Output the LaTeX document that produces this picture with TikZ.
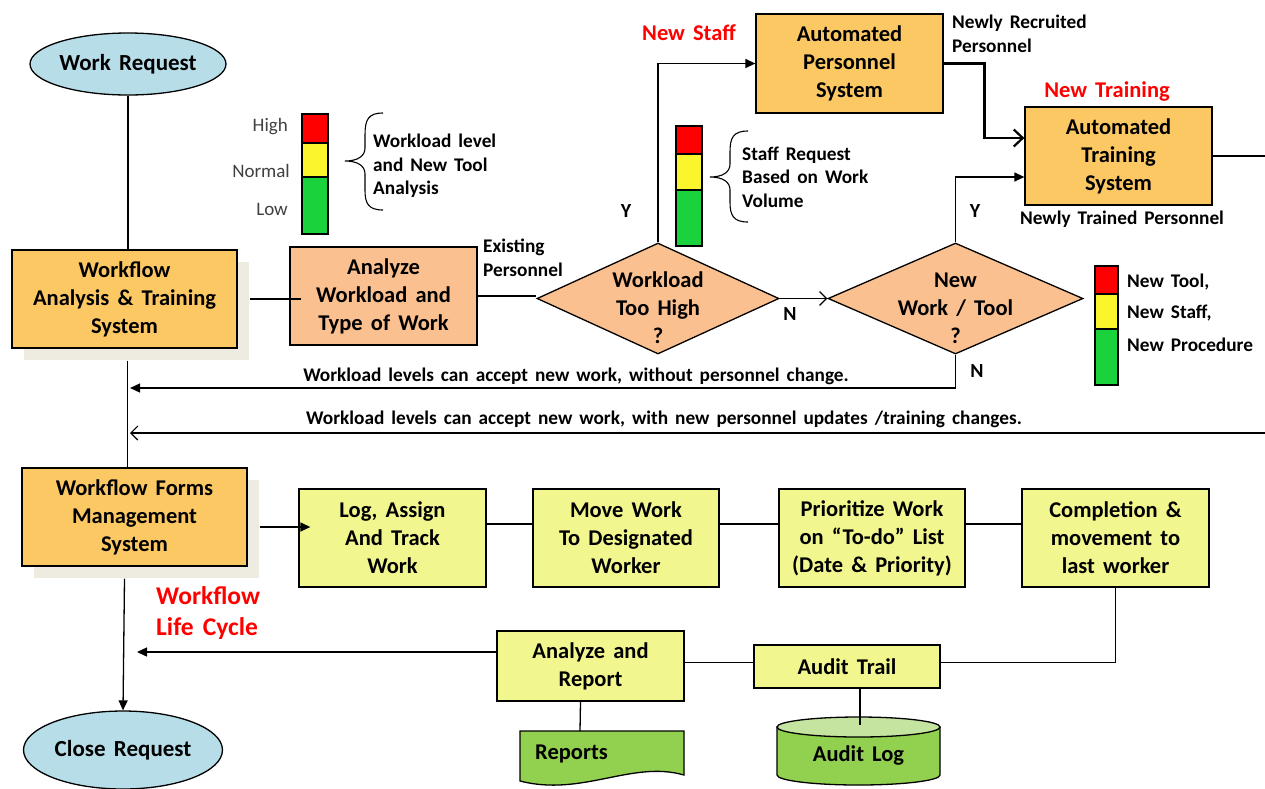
\documentclass[tikz,border=0pt]{standalone}
\usepackage{fontspec}
\setmainfont{Carlito}[WordSpace=1.6]
\usetikzlibrary{shapes.geometric,arrows.meta,shadows}
\definecolor{obox}{RGB}{252,200,100}
\definecolor{peach}{RGB}{250,192,144}
\definecolor{lyel}{RGB}{242,246,142}
\definecolor{lblue}{RGB}{183,222,232}
\definecolor{dgreen}{RGB}{146,208,80}
\definecolor{cyltop}{RGB}{196,228,160}
\definecolor{shadowc}{RGB}{238,236,225}
\definecolor{tred}{RGB}{255,0,0}
\definecolor{tyel}{RGB}{250,245,45}
\definecolor{tgreen}{RGB}{25,210,60}
\definecolor{redlab}{RGB}{255,0,0}
\definecolor{graytxt}{RGB}{64,64,64}
\begin{document}
\begin{tikzpicture}[x=1pt,y=-1pt,
  box/.style={draw, line width=1.3pt, align=center, inner sep=0pt,
    font=\bfseries\fontsize{22.5}{28}\selectfont},
  orbox/.style={box, fill=obox},
  pebox/.style={box, fill=peach},
  yebox/.style={box, fill=lyel},
  shad/.style={drop shadow={shadow xshift=12pt, shadow yshift=-12pt, opacity=1, fill=shadowc}},
  dia/.style={diamond, draw, line width=1.3pt, fill=peach, inner sep=0pt, minimum width=242pt, minimum height=111pt},
  ell/.style={ellipse, draw, line width=1.3pt, fill=lblue, inner sep=0pt, font=\bfseries\fontsize{23}{28}\selectfont},
  btxt/.style={align=center, inner sep=0pt, font=\bfseries\fontsize{22.5}{28}\selectfont},
  lab/.style={align=left, inner sep=0pt, font=\bfseries\fontsize{19.3}{23.5}\selectfont},
  yn/.style={inner sep=0pt, font=\bfseries\fontsize{20}{22}\selectfont},
  redl/.style={inner sep=0pt, text=redlab, font=\bfseries\fontsize{22.5}{26}\selectfont},
  lvl/.style={inner sep=0pt, anchor=east, text=graytxt, font=\fontsize{19}{22}\selectfont},
  conn/.style={line width=1.3pt},
  farr/.style={conn, -{Triangle[length=10pt,width=9pt]}},
  oarr/.style={conn, -{Straight Barb[length=7pt,width=14pt,line width=1.2pt]}},
  tharr/.style={line width=2.8pt, -{Straight Barb[length=9pt,width=17pt,line width=2.2pt]}},
  tl/.style={draw, line width=1.3pt},
  brc/.style={line width=1.1pt}
]
\useasboundingbox[fill=white] (0,0) rectangle (1265,788);

% ---------------- left column ----------------
\node[ell, minimum width=196pt, minimum height=62pt] (wr) at (128,64) {Work Request};
\node[orbox, shad, minimum width=225pt, minimum height=98pt] (wa) at (124.5,299) {Workflow\\Analysis \& Training\\System};
\node[orbox, shad, minimum width=225pt, minimum height=98pt] (wf) at (134.5,517) {Workflow Forms\\Management\\System};
\node[ell, minimum width=199pt, minimum height=78pt] (cr) at (123,750) {Close Request};

% ---------------- analysis row ----------------
\node[pebox, minimum width=187pt, minimum height=98pt] (ana) at (383.5,296) {Analyze\\Workload and\\Type of Work};
\node[dia] (d1) at (658,298.5) {};
\node[btxt] (d1t) at (658,308) {Workload\\Too High\\?};
\node[dia, minimum width=255pt] (d2) at (955.5,298.5) {};
\node[btxt] (d2t) at (955.5,308) {New\\Work / Tool\\?};

\node[orbox, minimum width=187pt, minimum height=99pt] (aps) at (849.5,63.5) {Automated\\Personnel\\System};
\node[orbox, minimum width=187pt, minimum height=98pt] (ats) at (1118.5,156) {Automated\\Training\\System};

% ---------------- labels ----------------
\node[lab, anchor=west] (exist) at (483,258) {Existing\\Personnel};
\node[lab, anchor=west] (nrp) at (952,34) {Newly Recruited\\Personnel};
\node[lab] (ntp) at (1122,219) {Newly Trained Personnel};
\node[redl] (nstaff) at (689,33) {New Staff};
\node[redl] (ntrain) at (1107,92) {New Training};
\node[yn] (y1) at (626,211) {Y};
\node[yn] (y2) at (975,211) {Y};
\node[yn] (n1) at (790,314) {N};
\node[yn] (n2) at (977,371) {N};
\node[lab] (wl1) at (576,376) {Workload levels can accept new work, without personnel change.};
\node[lab] (wl2) at (664,419) {Workload levels can accept new work, with new personnel updates /training changes.};
\node[anchor=west, align=left, inner sep=0pt, text=redlab, font=\bfseries\fontsize{25.5}{31}\selectfont] (wlc) at (156,613) {Workflow\\Life Cycle};

% ---------------- traffic lights ----------------
\draw[tl, fill=tred] (302,114) rectangle (328,143);
\draw[tl, fill=tyel] (302,143) rectangle (328,177);
\draw[tl, fill=tgreen] (302,177) rectangle (328,234);
\node[lvl] (hi) at (288,127) {High};
\node[lvl] (no) at (290,171) {Normal};
\node[lvl] (lo) at (288,209) {Low};
\draw[brc] (383,113) .. controls (368,113) and (365,120) .. (365,135) -- (365,148)
  .. controls (365,156) and (358,161) .. (345,161)
  .. controls (358,161) and (365,166) .. (365,174) -- (365,190)
  .. controls (365,203) and (368,210) .. (383,210);
\node[lab, anchor=west] (wla) at (373,166) {Workload level\\and New Tool\\Analysis};

\draw[tl, fill=tred] (676,126) rectangle (702,154);
\draw[tl, fill=tyel] (676,154) rectangle (702,190);
\draw[tl, fill=tgreen] (676,190) rectangle (702,246);
\draw[brc] (748,131) .. controls (733,131) and (730,138) .. (730,152) -- (730,164)
  .. controls (730,172) and (723,177) .. (710,177)
  .. controls (723,177) and (730,182) .. (730,190) -- (730,202)
  .. controls (730,215) and (733,222) .. (748,222);
\node[lab, anchor=west] (srq) at (742,177) {Staff Request\\Based on Work\\Volume};

\draw[tl, fill=tred] (1095,266) rectangle (1118,294);
\draw[tl, fill=tyel] (1095,294) rectangle (1118,329);
\draw[tl, fill=tgreen] (1095,329) rectangle (1118,385);
\node[lab, anchor=west] (nt) at (1127,282) {New Tool,};
\node[lab, anchor=west] (ns) at (1127,313) {New Staff,};
\node[lab, anchor=west] (np) at (1127,345) {New Procedure};

% ---------------- process row ----------------
\node[yebox, minimum width=187pt, minimum height=98pt] (lg) at (392.5,538) {Log, Assign\\And Track\\Work};
\node[yebox, minimum width=186pt, minimum height=98pt] (mv) at (626,538) {Move Work\\To Designated\\Worker};
\node[yebox, minimum width=186pt, minimum height=98pt] (pr) at (872,538) {Prioritize Work\\on “To-do” List\\(Date \& Priority)};
\node[yebox, minimum width=187pt, minimum height=98pt] (cp) at (1115.5,538) {Completion \&\\movement to\\last worker};
\node[yebox, minimum width=186pt, minimum height=43pt] (at) at (847,666.5) {Audit Trail};
\node[yebox, minimum width=187pt, minimum height=70pt] (ar) at (590.5,666) {Analyze and\\Report};

% reports document
\draw[line width=1.3pt, fill=dgreen] (520,731) -- (684,731) -- (684,775)
  .. controls (632,760) and (582,797) .. (520,781) -- cycle;
\node[inner sep=0pt, anchor=west, font=\bfseries\fontsize{22.5}{26}\selectfont] (rep) at (535,754) {Reports};
\coordinate (reptop) at (580,731);

% audit log cylinder
\draw[line width=1.3pt, fill=dgreen] (777,727) -- (777,775)
  arc[start angle=180, end angle=360, x radius=81.5pt, y radius=10pt] -- (940,727) -- cycle;
\draw[line width=1.3pt, fill=cyltop] (858.5,727) ellipse [x radius=81.5pt, y radius=10pt];
\node[inner sep=0pt, font=\bfseries\fontsize{22.5}{26}\selectfont] (alog) at (858.5,755) {Audit Log};
\coordinate (logtop) at (860,725);

% ---------------- connectors ----------------
\coordinate (re1) at (1265,156);
\coordinate (re2) at (1265,433);
\coordinate (m1) at (130,388);
\coordinate (m2) at (130,433);
\coordinate (m3) at (137,652);

\draw[conn] (wr.south) -- (wr.south |- wa.north);
\draw[conn] ([xshift=12pt]wa.east) -- ([xshift=12pt]wa.east -| ana.west);
\draw[conn] ([xshift=3pt,yshift=-12pt]wa.south) -- ([xshift=3pt]wa.south |- wf.north);
\draw[conn] (ana.east) -- (ana.east -| d1.west);
\draw[farr] (d1.north) |- (aps.west);
\draw[tharr] (aps.east) -- ++(41,0) |- ([yshift=18pt]ats.west);
\draw[farr] (d2.north) |- ([yshift=-21pt]ats.west);
\draw[conn] (ats.east) -- (re1);
\draw[oarr] (d1.east) -- (d2.west);
\draw[farr] (d2.south) |- (m1);
\draw[oarr] (re2) -- (m2);

\draw[farr] ([xshift=12pt,yshift=-10pt]wf.east) -- ([xshift=12pt,yshift=-10pt]wf.east -| lg.west);
\draw[conn] ([yshift=14pt]lg.east) -- ([yshift=14pt]mv.west);
\draw[conn] ([yshift=14pt]mv.east) -- ([yshift=14pt]pr.west);
\draw[conn] ([yshift=14pt]pr.east) -- ([yshift=14pt]cp.west);
\draw[conn] (cp.south) |- ([yshift=4pt]at.east);
\draw[conn] ([yshift=4pt]at.west) -- ([yshift=4pt]at.west -| ar.east);
\draw[farr] ([yshift=14pt]ar.west) -- (m3);
\draw[conn] ([xshift=-10pt]ar.south) -- (reptop);
\draw[conn] ([xshift=13pt]at.south) -- (logtop);
\draw[farr] ([xshift=-10pt,yshift=-12pt]wf.south) -- (cr.north);
\end{tikzpicture}
\end{document}
